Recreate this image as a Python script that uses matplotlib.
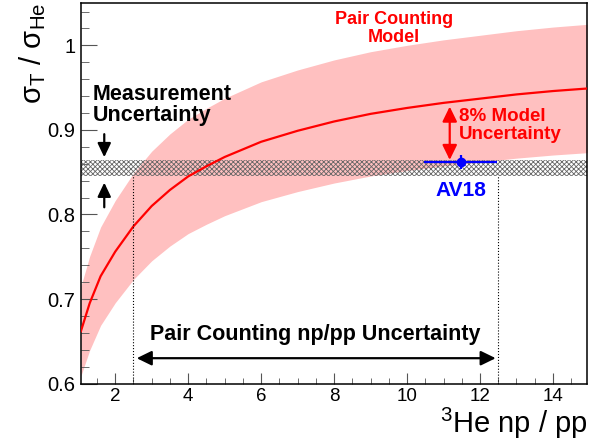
import numpy as np
import matplotlib
matplotlib.use("Agg")
import matplotlib.pyplot as plt

plt.rcParams['font.family'] = ['Liberation Sans', 'DejaVu Sans']
plt.rcParams['mathtext.fontset'] = 'custom'
plt.rcParams['mathtext.rm'] = 'Liberation Sans'
plt.rcParams['hatch.linewidth'] = 0.6

# pair counting model curve
np_pp = [1.06, 1.3, 1.6, 2.0, 2.5, 3.0, 3.5, 4.0, 4.5, 5.0, 6.0, 7.0, 8.0,
         9.0, 10.0, 11.0, 12.0, 13.0, 14.0, 14.94]
ratio = [0.662, 0.695, 0.727, 0.756, 0.786, 0.810, 0.829, 0.845, 0.857, 0.868,
         0.886, 0.899, 0.910, 0.919, 0.926, 0.932, 0.937, 0.942, 0.946, 0.949]
model_unc = 0.08

# measurement band
meas_lo, meas_hi = 0.845, 0.8645
# np/pp range from pair counting
np_pp_lo, np_pp_hi = 2.5, 12.5
# AV18 point
av18_x, av18_xerr = 11.47, 1.0
av18_y, av18_yerr = 0.862, 0.008

x = np.array(np_pp)
y = np.array(ratio)

fig = plt.figure(figsize=(6.13, 4.46), dpi=100)
ax = fig.add_axes([0.132, 0.140, 0.826, 0.853])

ax.fill_between(x, y * (1 - model_unc), y * (1 + model_unc),
                color='#ffc0c0', linewidth=0, zorder=1)
ax.axhspan(meas_lo, meas_hi, facecolor='none', edgecolor='#666666',
           hatch='xxxxxxx', linewidth=0, zorder=2)
ax.plot(x, y, color='red', lw=1.6, zorder=3)

for xv in (np_pp_lo, np_pp_hi):
    ax.plot([xv, xv], [0.6, meas_lo], color='k', ls=':', lw=0.8, zorder=3)

ax.errorbar(av18_x, av18_y, xerr=av18_xerr, yerr=av18_yerr, fmt='o',
            color='blue', ms=6, lw=1.6, capsize=0, zorder=5)

def arrow(x0, y0, x1, y1, style, color, hl, hw):
    ax.annotate('', xy=(x1, y1), xytext=(x0, y0),
                arrowprops=dict(arrowstyle=f'{style},head_length={hl},head_width={hw}',
                                mutation_scale=20, lw=1.6, color=color,
                                shrinkA=0, shrinkB=0), zorder=6)

# measurement arrows
arrow(1.70, 0.895, 1.70, 0.8677, '-|>', 'k', 0.42, 0.2)
arrow(1.70, 0.8085, 1.70, 0.8377, '-|>', 'k', 0.42, 0.2)
# np/pp range arrow
arrow(2.59, 0.630, 12.43, 0.630, '<|-|>', 'k', 0.45, 0.22)
# model uncertainty arrow
arrow(11.17, 0.8645, 11.17, 0.9276, '<|-|>', 'red', 0.45, 0.22)

ax.text(9.64, 1.02, 'Pair Counting\nModel', color='red', ha='center',
        va='center', fontweight='bold', fontsize=13, linespacing=1.1)
ax.text(1.38, 0.929, 'Measurement\nUncertainty', color='k', ha='left',
        va='center', fontweight='bold', fontsize=15.5, linespacing=1.0)
ax.text(11.43, 0.905, '8% Model\nUncertainty', color='red', ha='left',
        va='center', fontweight='bold', fontsize=13.5, linespacing=1.1)
ax.text(7.47, 0.658, 'Pair Counting np/pp Uncertainty', color='k',
        ha='center', va='center', fontweight='bold', fontsize=15.5)
ax.text(11.47, 0.828, 'AV18', color='blue', ha='center', va='center',
        fontweight='bold', fontsize=15)

ax.set_xlim(1.06, 14.94)
ax.set_ylim(0.6, 1.05)
ax.set_xticks(np.arange(2, 15, 2))
ax.set_xticks(np.arange(1.5, 15, 0.5), minor=True)
ax.set_yticks([0.6, 0.7, 0.8, 0.9, 1.0])
ax.set_yticklabels(['0.6', '0.7', '0.8', '0.9', '1'])
ax.set_yticks(np.arange(0.6, 1.05, 0.02), minor=True)
ax.tick_params(axis='both', which='both', direction='in', color='#555555',
               top=False, right=False)
ax.tick_params(axis='x', which='major', length=8, labelsize=13.5, pad=3.2)
ax.tick_params(axis='x', which='minor', length=4)
ax.tick_params(axis='y', which='major', length=11.5, labelsize=14.5, pad=4)
ax.tick_params(axis='y', which='minor', length=5.8)
for s in ax.spines.values():
    s.set_linewidth(1.1)

fig.text(0.958, 0.029, r'$^{3}$He np / pp', ha='right', va='baseline',
         fontsize=21)
fig.text(0.053, 0.993, r'σ$_{\mathrm{T}}$ / σ$_{\mathrm{He}}$', rotation=90,
         ha='center', va='top', fontsize=21)

fig.savefig('out.png', dpi=100)
